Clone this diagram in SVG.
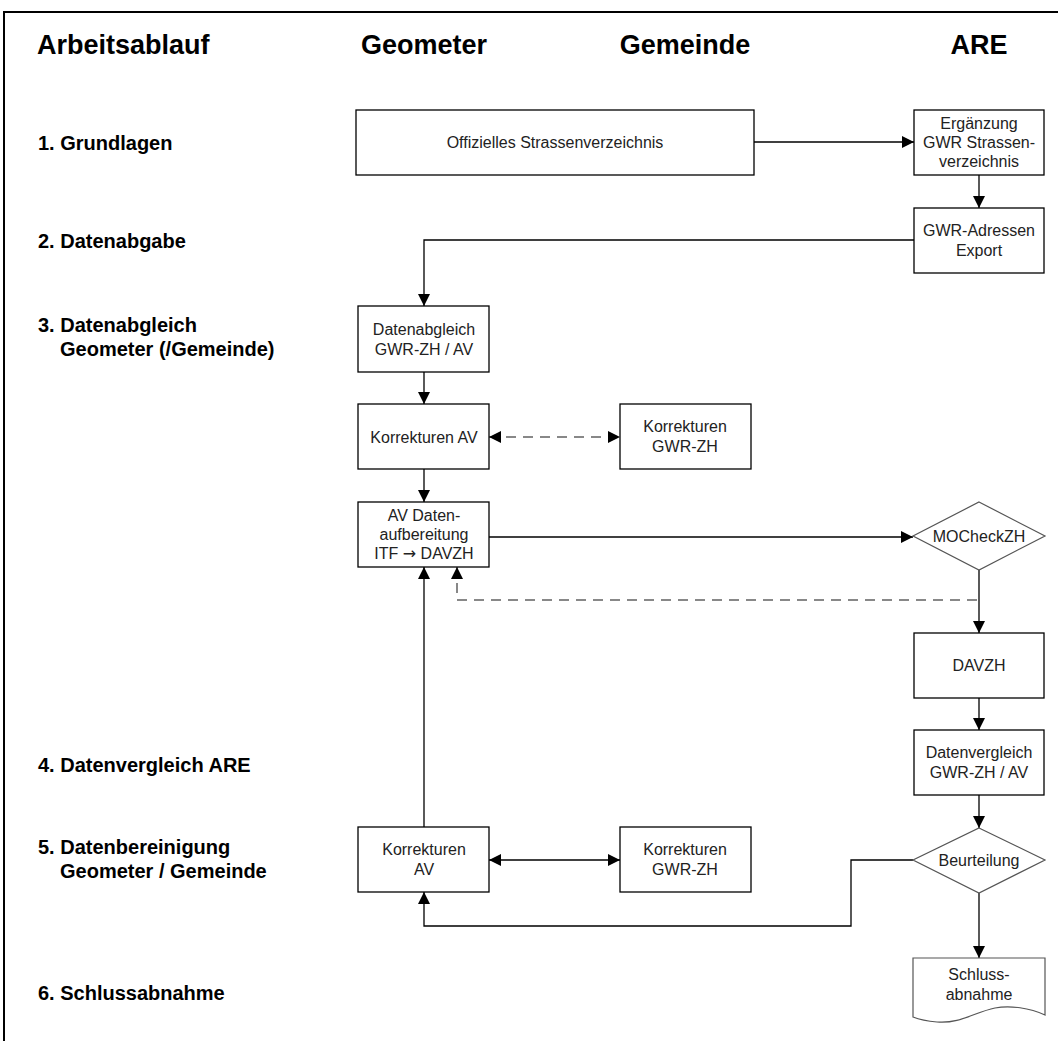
<svg xmlns="http://www.w3.org/2000/svg" width="1058" height="1041" viewBox="0 0 1058 1041">
<defs>
<marker id="ah" viewBox="0 0 12 12" refX="12" refY="6" markerWidth="12" markerHeight="12" markerUnits="userSpaceOnUse" orient="auto-start-reverse">
<path d="M0,0 L12,6 L0,12 Z" fill="#000"/>
</marker>
<style>
.hd{font-family:"Liberation Sans",Arial,sans-serif;font-weight:bold;font-size:27px;fill:#000}
.hc{text-anchor:middle}
.lb{font-family:"Liberation Sans",Arial,sans-serif;font-weight:bold;font-size:20px;fill:#000}
.tx{font-family:"Liberation Sans",Arial,sans-serif;font-size:16px;fill:#222;text-anchor:middle}
.sym{font-family:"DejaVu Sans",sans-serif}
.bx{fill:#fff;stroke:#000;stroke-width:1.3}
.dm{fill:#fff;stroke:#555;stroke-width:1.2}
.ln{fill:none;stroke:#000;stroke-width:1.3}
.dl{fill:none;stroke:#888;stroke-width:2;stroke-dasharray:10,7}
</style>
</defs>
<rect x="0" y="0" width="1058" height="1041" fill="#fff"/>
<path d="M4,1041 V12 H1058" fill="none" stroke="#000" stroke-width="2"/>

<g id="headers">
<text class="hd" x="37" y="54">Arbeitsablauf</text>
<text class="hd hc" x="424" y="54">Geometer</text>
<text class="hd hc" x="685" y="54">Gemeinde</text>
<text class="hd hc" x="979" y="54">ARE</text>
</g>
<g id="phases">
<text class="lb" x="38" y="150">1. Grundlagen</text>
<text class="lb" x="38" y="248">2. Datenabgabe</text>
<text class="lb" x="38" y="332">3. Datenabgleich</text>
<text class="lb" x="60" y="356">Geometer (/Gemeinde)</text>
<text class="lb" x="38" y="772">4. Datenvergleich ARE</text>
<text class="lb" x="38" y="854">5. Datenbereinigung</text>
<text class="lb" x="60" y="878">Geometer / Gemeinde</text>
<text class="lb" x="38" y="1000">6. Schlussabnahme</text>
</g>

<g id="connectors">
<line class="ln" x1="754" y1="142" x2="914" y2="142" marker-end="url(#ah)"/>
<line class="ln" x1="979" y1="175" x2="979" y2="208" marker-end="url(#ah)"/>
<polyline class="ln" points="914,240 424,240 424,306" marker-end="url(#ah)"/>
<line class="ln" x1="424" y1="372" x2="424" y2="404" marker-end="url(#ah)"/>
<line class="dl" x1="489" y1="437" x2="620" y2="437" marker-start="url(#ah)" marker-end="url(#ah)"/>
<line class="ln" x1="424" y1="469" x2="424" y2="502" marker-end="url(#ah)"/>
<line class="ln" x1="489" y1="537" x2="913" y2="537" marker-end="url(#ah)"/>
<line class="ln" x1="979" y1="570" x2="979" y2="633" marker-end="url(#ah)"/>
<polyline class="dl" points="977,600 457,600 457,567" marker-end="url(#ah)"/>
<line class="ln" x1="424" y1="827" x2="424" y2="567" marker-end="url(#ah)"/>
<line class="ln" x1="979" y1="698" x2="979" y2="730" marker-end="url(#ah)"/>
<line class="ln" x1="979" y1="795" x2="979" y2="828" marker-end="url(#ah)"/>
<line class="ln" x1="489" y1="860" x2="620" y2="860" marker-start="url(#ah)" marker-end="url(#ah)"/>
<polyline class="ln" points="913,860 851,860 851,926 424,926 424,892" marker-end="url(#ah)"/>
<line class="ln" x1="979" y1="893" x2="979" y2="958" marker-end="url(#ah)"/>
</g>

<g id="n-offiziell"><rect class="bx" x="356" y="110" width="398" height="65"/><text class="tx" x="555" y="148">Offizielles Strassenverzeichnis</text></g>
<g id="n-ergaenzung"><rect class="bx" x="914" y="110" width="130" height="65"/><text class="tx" x="979" y="129">Ergänzung</text><text class="tx" x="979" y="148">GWR Strassen-</text><text class="tx" x="979" y="167">verzeichnis</text></g>
<g id="n-export"><rect class="bx" x="914" y="208" width="130" height="65"/><text class="tx" x="979" y="236">GWR-Adressen</text><text class="tx" x="979" y="256">Export</text></g>
<g id="n-datenabgleich"><rect class="bx" x="358" y="306" width="131" height="66"/><text class="tx" x="424" y="335">Datenabgleich</text><text class="tx" x="424" y="355">GWR-ZH / AV</text></g>
<g id="n-korrav1"><rect class="bx" x="358" y="404" width="131" height="65"/><text class="tx" x="424" y="443">Korrekturen AV</text></g>
<g id="n-korrgwr1"><rect class="bx" x="620" y="404" width="131" height="65"/><text class="tx" x="685" y="432">Korrekturen</text><text class="tx" x="685" y="452">GWR-ZH</text></g>
<g id="n-aufbereitung"><rect class="bx" x="358" y="502" width="131" height="65"/><text class="tx" x="424" y="521">AV Daten-</text><text class="tx" x="424" y="540">aufbereitung</text><text class="tx" x="424" y="559">ITF <tspan class="sym">→</tspan> DAVZH</text></g>
<g id="n-mocheck"><polygon class="dm" points="979,502 1045,536 979,570 913,536"/><text class="tx" x="979" y="542">MOCheckZH</text></g>
<g id="n-davzh"><rect class="bx" x="914" y="633" width="130" height="65"/><text class="tx" x="979" y="671">DAVZH</text></g>
<g id="n-datenvergleich"><rect class="bx" x="914" y="730" width="130" height="65"/><text class="tx" x="979" y="758">Datenvergleich</text><text class="tx" x="979" y="778">GWR-ZH / AV</text></g>
<g id="n-beurteilung"><polygon class="dm" points="979,828 1045,860 979,893 913,860"/><text class="tx" x="979" y="866">Beurteilung</text></g>
<g id="n-korrav2"><rect class="bx" x="358" y="827" width="131" height="65"/><text class="tx" x="424" y="855">Korrekturen</text><text class="tx" x="424" y="875">AV</text></g>
<g id="n-korrgwr2"><rect class="bx" x="620" y="827" width="131" height="65"/><text class="tx" x="685" y="855">Korrekturen</text><text class="tx" x="685" y="875">GWR-ZH</text></g>
<g id="n-schluss"><path class="dm" d="M913,958 H1045 V1015 C1030,1008 1010,1005 995,1008 C975,1012 960,1024 937,1022 C925,1021 918,1019 913,1017 Z"/><text class="tx" x="979" y="980">Schluss-</text><text class="tx" x="979" y="1000">abnahme</text></g>
</svg>
